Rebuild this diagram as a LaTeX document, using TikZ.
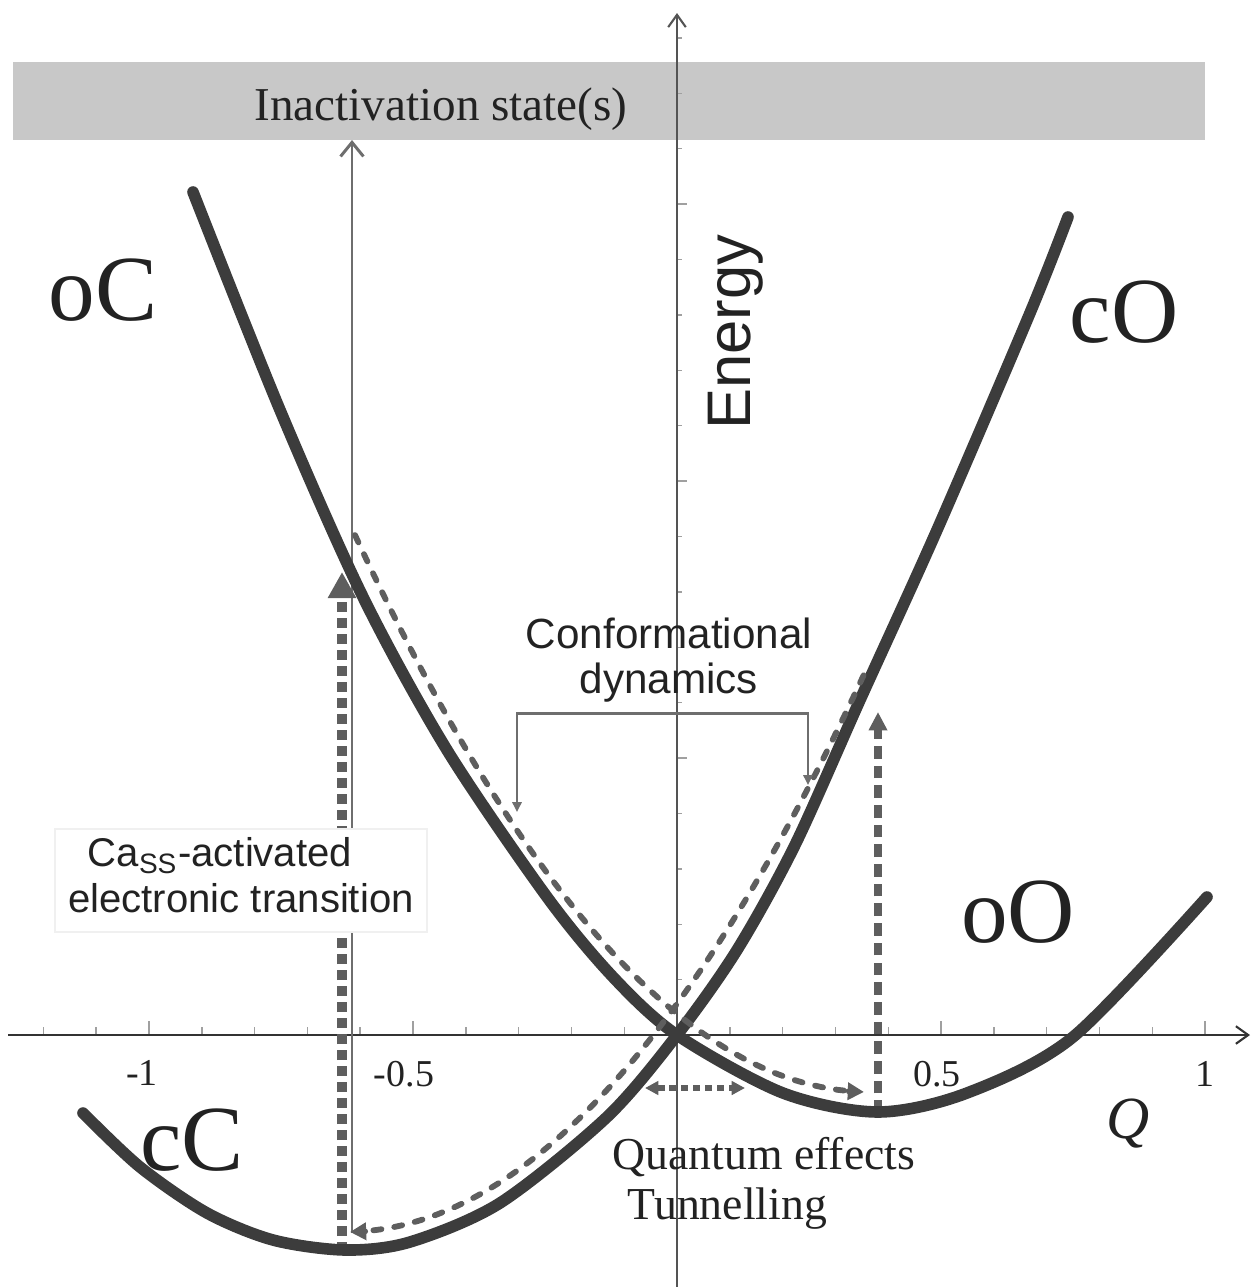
\documentclass[tikz,border=0pt]{standalone}
\usepackage{fontspec}
\setmainfont{Liberation Serif}
\setsansfont{Liberation Sans}
\usetikzlibrary{arrows.meta}
\definecolor{curvec}{HTML}{3C3C3C}
\definecolor{dashc}{HTML}{5E5E5E}
\definecolor{thinc}{HTML}{6E6E6E}
\definecolor{bandc}{HTML}{C8C8C8}
\definecolor{txtc}{HTML}{222222}
\definecolor{tickc}{HTML}{A0A0A0}
\begin{document}
\begin{tikzpicture}[x=0.01cm,y=-0.01cm,
  ctip/.tip={Triangle[length=4.6pt,width=4.8pt,fill=dashc]},
  pot/.style={line width=3.3pt, draw=curvec, line cap=round, line join=round},
  conf/.style={line width=1.65pt, draw=dashc, line cap=round, dash pattern=on 2.3pt off 3.7pt},
  sqdash/.style={line width=2.85pt, draw=dashc, dash pattern=on 2.85pt off 1.7pt, -{Triangle[length=7.4pt,width=7.6pt,fill=dashc]}},
  rdash/.style={line width=2pt, draw=dashc, dash pattern=on 3.6pt off 2pt, -{Triangle[length=5.2pt,width=5pt,fill=dashc]}},
  thinl/.style={line width=0.85pt, draw=thinc, -{Straight Barb[length=4pt,width=6.5pt]}},
  brk/.style={line width=0.85pt, draw=thinc, -{Triangle[length=2.8pt,width=2.6pt,fill=thinc]}},
  qdot/.style={line width=1.5pt, draw=dashc, dash pattern=on 2pt off 1.4pt, {Triangle[length=3.8pt,width=3.8pt,fill=dashc]}-{Triangle[length=3.8pt,width=3.8pt,fill=dashc]}},
  axisl/.style={line width=0.6pt, draw=black!80, -{Straight Barb[length=3.5pt,width=5pt]}},
  tickl/.style={line width=0.4pt, draw=tickc},
  biglab/.style={font=\fontsize{26.5}{30}\selectfont, text=txtc, inner sep=0, anchor=base, text height=0.68em, text depth=0.02em},
  ticklab/.style={font=\fontsize{10.8}{13}\selectfont, text=txtc, inner sep=0, anchor=base, text depth=0pt},
]
\useasboundingbox (0,0) rectangle (1252,1287);
% inactivation band
\fill[bandc] (13,62) rectangle (1205,140);
\node[font=\fontsize{13.4}{16}\selectfont, text=txtc, inner sep=0, anchor=base] (inactlab) at (441,120) {Inactivation state(s)};
% axes
\coordinate (xs) at (8,1035);
\coordinate (xe) at (1250,1035);
\coordinate (ys) at (677,1287);
\coordinate (ye) at (677,13);
\foreach \k in {-12,-11,-9,-8,-7,-6,-4,-3,-2,-1,1,2,3,4,6,7,8,9}
  \draw[tickl] ({677+52.8*\k},1035) -- ++(0,-8);
\foreach \k in {-10,-5,5,10}
  \draw[tickl] ({677+52.8*\k},1035) -- ++(0,-14);
\foreach \k in {1,2,3,4,6,7,8,9,11,12,13,14,16,17,18}
  \draw[tickl] (677,{1035-55.4*\k}) -- ++(5,0);
\foreach \k in {5,10,15}
  \draw[tickl] (677,{1035-55.4*\k}) -- ++(10,0);
\draw[axisl] (xs) -- (xe);
\draw[axisl, draw=black!67] (ys) -- (ye);
\node[ticklab] (tm1) at (142,1085) {-1};
\node[ticklab] (tm05) at (404,1086) {-0.5};
\node[ticklab] (tp05) at (937,1086) {0.5};
\node[ticklab] (tp1) at (1205,1086) {1};
\node[font=\fontsize{17}{20}\selectfont\itshape, text=txtc, inner sep=0, anchor=base] (Qlab) at (1128,1138) {Q};
% vertical transitions
\coordinate (cCbot) at (342,1252);
\coordinate (oCpt) at (342,572);
\coordinate (thinbot) at (352,1233);
\coordinate (inact) at (352,140);
\coordinate (oObot) at (878,1113);
\coordinate (cOpt) at (878,712);
\draw[thinl] (thinbot) -- (inact);
\draw[sqdash] (cCbot) -- (oCpt);
\draw[rdash] (oObot) -- (cOpt);
% potential curves
\draw[pot] plot[smooth, tension=0.5] coordinates {(83,1113) (140,1167) (207,1213) (273,1240) (345,1250) (410,1242) (500,1203) (607,1117) (677,1035) (737,950) (795,845) (860,700) (937,530) (1030,313) (1068,217)};
\draw[pot] plot[smooth, tension=0.5] coordinates {(193,192) (280,410) (363,597) (447,750) (547,897) (613,977) (677,1035) (783,1093) (878,1112) (967,1093) (1073,1037) (1207,897)};
% conformational dynamics dashed curves
\draw[conf, -{ctip}] plot[domain=-5.15:-0.06, samples=60] ({870+100*\x},{1092-21*\x*\x});
\draw[conf, {ctip}-] plot[domain=0.05:5.22, samples=60] ({345+100*\x},{1232-20.7*\x*\x});
% bracket
\coordinate (brTop) at (663,713);
\coordinate (brL) at (517,812);
\coordinate (brR) at (808,785);
\draw[brk] (brTop) -| (brL);
\draw[brk] (brTop) -| (brR);
\node[font=\sffamily\fontsize{12}{12.8}\selectfont, text=txtc, align=center, anchor=north, inner sep=0] (conflab) at (669,617) {Conformational\\dynamics};
% tunnelling
\coordinate (qL) at (645,1088);
\coordinate (qR) at (745,1088);
\draw[qdot] (qL) -- (qR);
\node[font=\fontsize{13}{14.2}\selectfont, text=txtc, align=left, anchor=north west, inner sep=0] (qelab) at (612,1137) {Quantum effects\\\hspace*{4.3pt}Tunnelling};
% state labels
\node[biglab] (oC) at (103,320) {oC};
\node[biglab] (cO) at (1124,342) {cO};
\node[biglab] (oO) at (1018,942) {oO};
\node[biglab] (cC) at (192,1170) {cC};
\node[font=\sffamily\fontsize{17.5}{20}\selectfont, text=txtc, rotate=90, anchor=base, inner sep=0] (energy) at (750,332) {Energy};
% Ca label box
\filldraw[fill=white, draw=black!6, line width=0.4pt] (55,829) rectangle (427,932);
\node[font=\sffamily\fontsize{11.4}{13.1}\selectfont, text=txtc, align=center, anchor=north, inner sep=0] (calab) at (241,837) {Ca\textsubscript{SS}-activated\kern12pt\\electronic transition};
\end{tikzpicture}
\end{document}
